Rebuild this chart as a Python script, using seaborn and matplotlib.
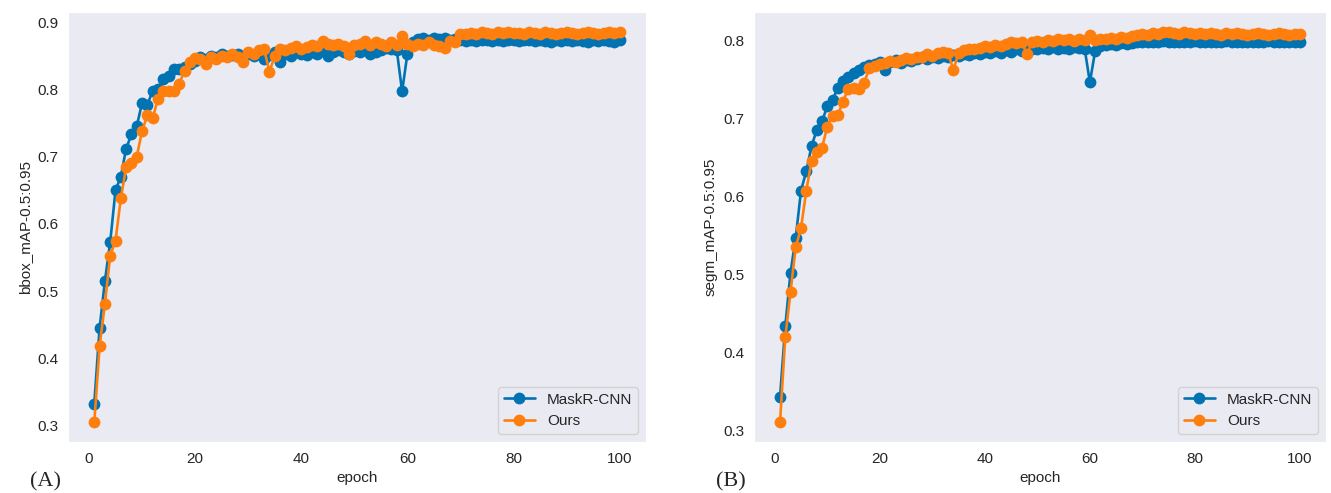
import numpy as np
import pandas as pd
import matplotlib
matplotlib.use('Agg')
import matplotlib.pyplot as plt
import seaborn as sns

# epochs 1..100
epochs = list(range(1, 101))

# (A) bbox mAP
bbox_maskrcnn = [
    0.333, 0.445, 0.515, 0.573, 0.650, 0.670, 0.712, 0.733, 0.745, 0.780,
    0.777, 0.798, 0.800, 0.815, 0.820, 0.831, 0.830, 0.833, 0.838, 0.842,
    0.848, 0.845, 0.850, 0.848, 0.852, 0.849, 0.851, 0.853, 0.847, 0.852,
    0.850, 0.854, 0.845, 0.851, 0.855, 0.840, 0.852, 0.850, 0.855, 0.853,
    0.851, 0.856, 0.852, 0.857, 0.850, 0.856, 0.858, 0.855, 0.853, 0.857,
    0.855, 0.858, 0.852, 0.856, 0.858, 0.862, 0.860, 0.858, 0.797, 0.853,
    0.870, 0.875, 0.876, 0.874, 0.877, 0.875, 0.876, 0.874, 0.875, 0.873,
    0.872, 0.873, 0.872, 0.874, 0.873, 0.872, 0.873, 0.872, 0.874, 0.873,
    0.872, 0.873, 0.874, 0.872, 0.873, 0.872, 0.871, 0.873, 0.872, 0.873,
    0.872, 0.873, 0.872, 0.871, 0.873, 0.872, 0.873, 0.872, 0.871, 0.873,
]
bbox_ours = [
    0.305, 0.418, 0.481, 0.553, 0.575, 0.638, 0.684, 0.690, 0.700, 0.738,
    0.762, 0.757, 0.786, 0.797, 0.798, 0.797, 0.808, 0.828, 0.840, 0.846,
    0.845, 0.838, 0.848, 0.845, 0.850, 0.848, 0.853, 0.848, 0.840, 0.856,
    0.852, 0.858, 0.860, 0.826, 0.850, 0.860, 0.858, 0.862, 0.864, 0.860,
    0.863, 0.866, 0.864, 0.872, 0.868, 0.866, 0.868, 0.865, 0.852, 0.866,
    0.868, 0.872, 0.866, 0.870, 0.868, 0.864, 0.870, 0.866, 0.880, 0.868,
    0.864, 0.868, 0.866, 0.870, 0.866, 0.864, 0.862, 0.872, 0.870, 0.882,
    0.883, 0.884, 0.883, 0.885, 0.884, 0.883, 0.886, 0.884, 0.885, 0.884,
    0.884, 0.883, 0.885, 0.884, 0.883, 0.885, 0.884, 0.883, 0.884, 0.885,
    0.884, 0.883, 0.884, 0.885, 0.884, 0.883, 0.884, 0.885, 0.884, 0.885,
]

# (B) segm mAP
segm_maskrcnn = [
    0.342, 0.433, 0.502, 0.547, 0.607, 0.632, 0.664, 0.685, 0.696, 0.715,
    0.723, 0.739, 0.748, 0.753, 0.758, 0.762, 0.765, 0.768, 0.770, 0.772,
    0.762, 0.772, 0.774, 0.771, 0.775, 0.773, 0.776, 0.778, 0.776, 0.779,
    0.777, 0.780, 0.779, 0.781, 0.780, 0.782, 0.781, 0.784, 0.782, 0.785,
    0.783, 0.786, 0.784, 0.787, 0.785, 0.788, 0.786, 0.787, 0.789, 0.788,
    0.790, 0.788, 0.791, 0.789, 0.790, 0.788, 0.791, 0.790, 0.789, 0.746,
    0.786, 0.793, 0.794, 0.795, 0.794, 0.796, 0.795, 0.796, 0.797, 0.798,
    0.797, 0.798, 0.797, 0.799, 0.798, 0.797, 0.798, 0.797, 0.798, 0.799,
    0.798, 0.797, 0.798, 0.797, 0.798, 0.799, 0.798, 0.797, 0.798, 0.797,
    0.798, 0.797, 0.798, 0.799, 0.798, 0.797, 0.798, 0.797, 0.798, 0.798,
]
segm_ours = [
    0.310, 0.419, 0.477, 0.535, 0.559, 0.607, 0.645, 0.657, 0.662, 0.689,
    0.703, 0.704, 0.721, 0.738, 0.739, 0.738, 0.745, 0.764, 0.767, 0.769,
    0.771, 0.773, 0.772, 0.775, 0.777, 0.776, 0.779, 0.778, 0.782, 0.780,
    0.783, 0.785, 0.784, 0.762, 0.783, 0.787, 0.789, 0.788, 0.790, 0.792,
    0.791, 0.794, 0.793, 0.795, 0.797, 0.796, 0.798, 0.782, 0.797, 0.799,
    0.798, 0.800, 0.799, 0.801, 0.800, 0.802, 0.799, 0.801, 0.800, 0.807,
    0.800, 0.802, 0.801, 0.803, 0.802, 0.804, 0.803, 0.805, 0.806, 0.808,
    0.807, 0.809, 0.808, 0.810, 0.811, 0.809, 0.808, 0.810, 0.809, 0.808,
    0.809, 0.808, 0.809, 0.808, 0.807, 0.809, 0.808, 0.809, 0.808, 0.807,
    0.808, 0.809, 0.808, 0.807, 0.808, 0.809, 0.808, 0.807, 0.808, 0.808,
]

series_names = ['MaskR-CNN', 'Ours']
colors = ['#0173b2', '#ff7f0e']

sns.set_style('dark')
plt.rcParams['font.family'] = ['Liberation Sans', 'DejaVu Sans']

fig = plt.figure(figsize=(13.31, 4.93), dpi=100)
ax_a = fig.add_axes([68 / 1331, 51 / 493, 578 / 1331, 430 / 493])
ax_b = fig.add_axes([754 / 1331, 51 / 493, 572 / 1331, 430 / 493])

panels = [
    (ax_a, bbox_maskrcnn, bbox_ours, 'bbox_mAP-0.5:0.95', '(A)', 30),
    (ax_b, segm_maskrcnn, segm_ours, 'segm_mAP-0.5:0.95', '(B)', 716),
]

for ax, base, ours, ylabel, tag, tag_x in panels:
    for vals, name, c in zip([base, ours], series_names, colors):
        sns.lineplot(x=epochs, y=vals, ax=ax, color=c, marker='o', markersize=8.5,
                     markeredgewidth=0, linewidth=1.9, label=name)
    ax.set_xlabel('epoch', fontsize=11)
    ax.set_ylabel(ylabel, fontsize=11)
    ax.tick_params(labelsize=11)
    ax.legend(loc='lower right', fontsize=11, frameon=True)
    fig.text(tag_x / 1331, 1 - 482 / 493, tag, fontsize=16, family='Liberation Serif',
             va='center', ha='left')

plt.savefig('out.png', dpi=100)
